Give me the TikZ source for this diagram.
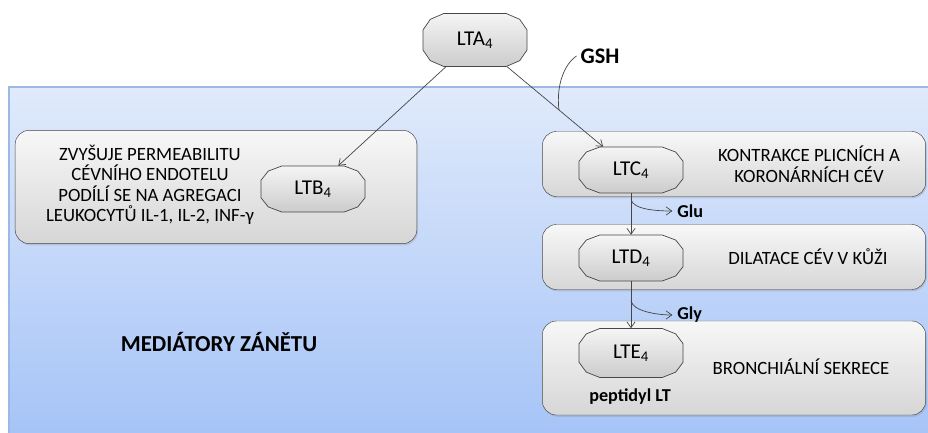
\documentclass[tikz,border=0pt]{standalone}
\usepackage{fontspec}
\setmainfont{Carlito}
\usetikzlibrary{arrows.meta,shadows,positioning}
\definecolor{PanelTop} {RGB}{224,234,251}
\definecolor{PanelBot} {RGB}{166,196,247}
\definecolor{PanelLine}{RGB}{155,185,228}
\definecolor{LineGray} {RGB}{70,70,70}
\tikzset{
  ltshape/.style={draw=LineGray,line width=0.6pt,top color=gray!8,bottom color=gray!40},
  ltnode/.style={rectangle,inner sep=0pt,minimum width=3.15cm,minimum height=1.38cm,
                 font=\fontsize{18}{18}\selectfont},
  effbox/.style={draw=LineGray,rounded corners=12pt,top color=gray!6,bottom color=gray!32,
                 drop shadow={opacity=0.25,shadow xshift=1pt,shadow yshift=-1.5pt}},
  efftext/.style={align=center,font=\fontsize{16}{17.5}\selectfont},
  sidelabel/.style={font=\bfseries\fontsize{15.5}{16}\selectfont,inner sep=1pt},
  conn/.style={draw=LineGray,line width=0.6pt,-{Straight Barb[length=5pt,width=7pt]}}
}
\begin{document}
\begin{tikzpicture}[x=0.03cm,y=-0.03cm]
\useasboundingbox (0,0) rectangle (928,433);
% panel
\fill[top color=PanelTop,bottom color=PanelBot] (9,87) rectangle (928,433);
\draw[PanelLine,line width=1pt] (9,433) -- (9,87) -- (928,87);
% boxes
\node[effbox,minimum width=12.05cm,minimum height=3.4cm] (leftbox) at (216,187) {};
\node[effbox,minimum width=11.5cm,minimum height=1.95cm] (cbox) at (734,164) {};
\node[effbox,minimum width=11.5cm,minimum height=1.95cm] (dbox) at (734,257) {};
\node[effbox,minimum width=11.5cm,minimum height=2.82cm] (ebox) at (734,368) {};
% octagon outlines (centre x / centre y / half height)
\foreach \cx/\cy/\hh in {475/40/26.5,313/189/23,631/170/23,631/258/23,631/353/24.5}
  \draw[ltshape,shift={(\cx,\cy)},xscale=52,yscale=\hh]
    (-1,-0.38) -- (-1,0.38) -- (-0.86,0.78) -- (-0.6,1) -- (0.6,1) -- (0.86,0.78)
    -- (1,0.38) -- (1,-0.38) -- (0.86,-0.78) -- (0.6,-1) -- (-0.6,-1) -- (-0.86,-0.78) -- cycle;
% leukotrienes
\node[ltnode,minimum height=1.59cm] (lta) at (475,40) {LTA\textsubscript{4}};
\node[ltnode] (ltb) at (313,189) {LTB\textsubscript{4}};
\node[ltnode] (ltc) at (631,170) {LTC\textsubscript{4}};
\node[ltnode] (ltd) at (631,258) {LTD\textsubscript{4}};
\node[ltnode,minimum height=1.47cm] (lte) at (631,353) {LTE\textsubscript{4}};
% texts
\node[efftext] (btext) at (150,185) {ZVYŠUJE PERMEABILITU\\CÉVNÍHO ENDOTELU\\PODÍLÍ SE NA AGREGACI\\LEUKOCYTŮ IL-1, IL-2, INF-γ};
\node[efftext] (ctext) at (809,164) {KONTRAKCE PLICNÍCH A\\KORONÁRNÍCH CÉV};
\node[efftext] (dtext) at (808,257) {DILATACE CÉV V KŮŽI};
\node[efftext] (etext) at (801,367) {BRONCHIÁLNÍ SEKRECE};
\node[sidelabel] (pept) at (630,397) {peptidyl LT};
\node[font=\bfseries\fontsize{19.5}{19.5}\selectfont] (medi) at (219,342) {MEDIÁTORY ZÁNĚTU};
\node[font=\bfseries\fontsize{19}{19}\selectfont] (gsh) at (600,56) {GSH};
\node[sidelabel,anchor=west] (glu) at (676,211) {Glu};
\node[sidelabel,anchor=west] (gly) at (676,315) {Gly};
% arrows
\draw[conn] (lta) -- (ltb);
\draw[conn] (lta) -- (ltc);
\path (lta) -- (ltc) coordinate[pos=0.54] (gshjoin);
\draw[LineGray,line width=0.6pt] (gsh.west) .. controls +(-12,8) and +(-3,-25) .. (gshjoin);
\draw[conn] (ltc) -- (ltd);
\draw[conn] (ltd) -- (lte);
\path (ltc.south) -- (ltd.north) coordinate[pos=0.15] (glufrom);
\path (ltd.south) -- (lte.north) coordinate[pos=0.42] (glyfrom);
\draw[conn] (glufrom) .. controls +(2,10) and +(-16,0) .. ([xshift=-3pt]glu.west);
\draw[conn] (glyfrom) .. controls +(2,10) and +(-16,0) .. ([xshift=-3pt]gly.west);
\end{tikzpicture}
\end{document}
